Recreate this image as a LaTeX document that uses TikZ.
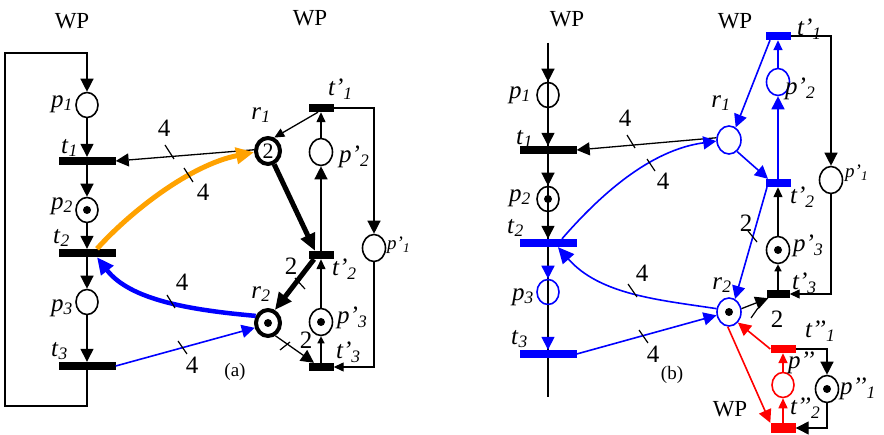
\documentclass[tikz,border=0pt]{standalone}
\usepackage{fontspec}
\setmainfont{Liberation Serif}
\usetikzlibrary{arrows.meta,shapes.geometric}
\newcommand\lb[2]{\textit{#1}\textsubscript{\textit{#2}}}
\definecolor{myorange}{RGB}{255,162,0}
\begin{document}
\begin{tikzpicture}[x=1pt,y=-1pt,
  every node/.style={font=\fontsize{25}{27}\selectfont, inner sep=0pt},
  wp/.style={font=\fontsize{23}{25}\selectfont},
  pl/.style={ellipse, draw, line width=1.6pt, minimum width=22pt, minimum height=25pt},
  res/.style={ellipse, draw, line width=4pt, minimum width=24pt, minimum height=26pt, font=\fontsize{22}{24}\selectfont},
  token/.style={path picture={\fill[black] (path picture bounding box.center) circle (4pt);}},
  bigtr/.style={rectangle, fill=black, minimum width=57pt, minimum height=8pt},
  smtr/.style={rectangle, fill=black, minimum width=25pt, minimum height=8pt},
  conn/.style={line width=1.3pt, -{Triangle[length=13pt,width=13pt]}},
  connm/.style={line width=1.3pt, -{Triangle[length=10pt,width=9pt]}},
  conns/.style={line width=1.3pt, -{Triangle[length=7pt,width=7pt]}},
  heavy/.style={line width=5pt, -{Triangle[length=17pt,width=15pt]}},
  wline/.style={line width=1.2pt},
  ll/.style={anchor=east},
  rl/.style={anchor=west},
  smalllab/.style={font=\fontsize{19}{21}\selectfont},
  caplab/.style={font=\fontsize{19}{21}\selectfont},
]
\useasboundingbox (0,0) rectangle (884,435);

% ================= panel (a) =================
\node[wp] (a-wp1) at (72,21) {WP};
\node[wp] (a-wp2) at (310,18) {WP};

\node[pl] (a-p1) at (87,105) {};
\node[bigtr] (a-t1) at (87,161) {};
\node[pl,token] (a-p2) at (87,210) {};
\node[bigtr] (a-t2) at (87,253) {};
\node[pl] (a-p3) at (87,302) {};
\node[bigtr] (a-t3) at (87,366) {};

\node[res] (a-r1) at (268,151) {2};
\node[res,token] (a-r2) at (268,323) {};

\node[smtr] (a-tp1) at (321,108) {};
\node[pl,minimum width=23pt,minimum height=27pt] (a-pp2) at (321,152) {};
\node[smtr] (a-tp2) at (321,255) {};
\node[pl,token,minimum width=23pt,minimum height=27pt] (a-pp3) at (321,322) {};
\node[smtr] (a-tp3) at (321,367) {};
\node[pl,minimum width=23pt,minimum height=27pt] (a-pp1) at (374,248) {};

% labels (a)
\node[ll] (a-lp1) at (73,104) {\lb{p}{1}};
\node[ll] (a-lt1) at (78,148) {\lb{t}{1}};
\node[ll] (a-lp2) at (73,206) {\lb{p}{2}};
\node[ll] (a-lt2) at (70,238) {\lb{t}{2}};
\node[ll] (a-lp3) at (73,308) {\lb{p}{3}};
\node[ll] (a-lt3) at (68,351) {\lb{t}{3}};
\node (a-lr1) at (261,115) {\lb{r}{1}};
\node (a-lr2) at (261,294) {\lb{r}{2}};
\node[rl] (a-ltp1) at (328,89) {\lb{t’}{1}};
\node[rl] (a-lpp2) at (339,157) {\lb{p’}{2}};
\node[rl] (a-ltp2) at (332,269) {\lb{t’}{2}};
\node[rl] (a-lpp3) at (337,318) {\lb{p’}{3}};
\node[rl] (a-ltp3) at (336,352) {\lb{t’}{3}};
\node[smalllab,rl] (a-lpp1) at (387,245) {\lb{p’}{1}};
\node[caplab] (a-cap) at (235,372) {(a)};

% left loop (a)
\coordinate (a-c1) at (87,406);
\coordinate (a-c2) at (5,406);
\coordinate (a-c3) at (5,53);
\coordinate (a-c4) at (87,53);
\draw[conn] (a-t3.center) -- (a-c1) -- (a-c2) -- (a-c3) -- (a-c4) -- (a-p1);
\draw[conn] (a-p1) -- (a-t1);
\draw[conn] (a-t1) -- (a-p2);
\draw[conn] (a-p2) -- (a-t2);
\draw[conn] (a-t2) -- (a-p3);
\draw[conn] (a-p3) -- (a-t3);

% resource arcs (a)
\draw[conn] (a-r1.175) -- (a-t1.east);
\coordinate (a-o1) at ([xshift=10pt]a-t2.north);
\draw[heavy, myorange, -{Triangle[length=18pt,width=16pt]}] (a-o1) .. controls (130,212) and (190,165) .. (a-r1.185);
\coordinate (a-b1) at ([xshift=10pt]a-t2.south);
\draw[heavy, blue, line width=4.5pt] (a-r2.150) .. controls (190,310) and (130,300) .. (a-b1);
\draw[conn, blue, line width=1.6pt] (a-t3.east) -- (a-r2.200);
\draw[connm] ([xshift=-3pt]a-tp1.south) -- (a-r1.65);
\draw[heavy] (a-r1.-65) -- ([xshift=-6pt]a-tp2.north);
\draw[heavy] ([xshift=-7pt]a-tp2.south) -- (a-r2.62);
\draw[conn] (a-r2.-60) -- ([xshift=-7pt]a-tp3.north);

% right column (a)
\draw[connm] (a-pp2) -- (a-tp1);
\draw[conn] (a-tp2) -- (a-pp2);
\draw[connm] (a-pp3) -- (a-tp2);
\draw[conns] (a-tp3) -- (a-pp3);
\draw[conn] (a-tp1.east) -| (a-pp1);
\draw[connm] (a-pp1) |- (a-tp3);

% weight ticks and labels (a)
\draw[wline] (165,145) -- (174,159);
\draw[wline] (184,168) -- (193,182);
\draw[wline] (167,295) -- (175,308);
\draw[wline] (178,341) -- (187,354);
\draw[wline] (295,278) -- (305,289);
\draw[wline] (280,350) -- (290,342);
\node (a-w1) at (164,128) {4};
\node (a-w2) at (203,192) {4};
\node (a-w3) at (182,282) {4};
\node (a-w4) at (192,365) {4};
\node (a-w5) at (291,266) {2};
\node (a-w6) at (306,340) {2};

% ================= panel (b) =================
\node[wp] (b-wp1) at (567,19) {WP};
\node[wp] (b-wp2) at (735,21) {WP};
\node[wp] (b-wp3) at (730,409) {WP};

\coordinate (b-top) at (548,43);
\coordinate (b-bot) at (548,397);
\draw[line width=1.6pt] (b-top) -- (b-bot);

\node[pl] (b-p1) at (548,95) {};
\node[bigtr] (b-t1) at (548,150) {};
\node[pl,token] (b-p2) at (548,199) {};
\node[bigtr,fill=blue] (b-t2) at (548,243) {};
\node[pl,draw=blue] (b-p3) at (548,292) {};
\node[bigtr,fill=blue] (b-t3) at (548,354) {};

\node[pl,draw=blue,minimum width=24pt,minimum height=28pt] (b-r1) at (729,140) {};
\node[pl,draw=blue,token,minimum width=24pt,minimum height=28pt] (b-r2) at (729,312) {};

\node[smtr,fill=blue] (b-tp1) at (778,36) {};
\node[pl,draw=blue,minimum width=23pt,minimum height=27pt] (b-pp2) at (778,82) {};
\node[smtr,fill=blue] (b-tp2) at (778,183) {};
\node[pl,token,minimum width=23pt,minimum height=27pt] (b-pp3) at (778,250) {};
\node[smtr,minimum width=23pt] (b-tp3) at (778,294) {};
\node[pl,minimum width=23pt,minimum height=27pt] (b-pp1) at (831,180) {};

\node[smtr,fill=red] (b-tpp1) at (783,349) {};
\node[pl,draw=red] (b-pp) at (783,385) {};
\node[smtr,fill=red,minimum height=10pt] (b-tpp2) at (783,428) {};
\node[pl,token,minimum width=23pt,minimum height=27pt] (b-ppp1) at (827,389) {};

% labels (b)
\node[ll] (b-lp1) at (531,95) {\lb{p}{1}};
\node[ll] (b-lt1) at (533,139) {\lb{t}{1}};
\node[ll] (b-lp2) at (531,198) {\lb{p}{2}};
\node[ll] (b-lt2) at (524,228) {\lb{t}{2}};
\node[ll] (b-lp3) at (534,297) {\lb{p}{3}};
\node[ll] (b-lt3) at (528,339) {\lb{t}{3}};
\node (b-lr1) at (721,103) {\lb{r}{1}};
\node (b-lr2) at (722,285) {\lb{r}{2}};
\node[rl] (b-ltp1) at (797,29) {\lb{t’}{1}};
\node[rl] (b-lpp2) at (785,89) {\lb{p’}{2}};
\node[rl] (b-ltp2) at (790,197) {\lb{t’}{2}};
\node[rl] (b-lpp3) at (793,246) {\lb{p’}{3}};
\node[rl] (b-ltp3) at (792,283) {\lb{t’}{3}};
\node[smalllab,rl] (b-lpp1) at (845,173) {\lb{p’}{1}};
\node[rl] (b-ltpp1) at (805,331) {\lb{t’’}{1}};
\node[rl] (b-lpp) at (788,363) {\textit{p’’}};
\node[rl] (b-lppp1) at (840,389) {\lb{p’’}{1}};
\node[rl] (b-ltpp2) at (790,408) {\lb{t’’}{2}};
\node[caplab] (b-cap) at (672,375) {(b)};

% column arrows (b)
\draw[conn] (b-top) -- (b-p1);
\draw[conn] (b-p1) -- (b-t1);
\draw[conn] (b-t1) -- (b-p2);
\draw[conn] (b-p2) -- (b-t2);
\draw[line width=1.6pt, -{Triangle[length=13pt,width=13pt,color=blue]}] (b-t2) -- (b-p3);
\draw[line width=1.6pt, -{Triangle[length=13pt,width=13pt,color=blue]}] (b-p3) -- (b-t3);

% resource arcs (b)
\draw[conn] (b-r1.170) -- (b-t1.east);
\coordinate (b-o1) at ([xshift=14pt]b-t2.north);
\draw[conn, blue, line width=1.6pt] (b-o1) .. controls (600,195) and (650,150) .. (b-r1.185);
\coordinate (b-b1) at ([xshift=10pt]b-t2.south);
\draw[blue, line width=1.6pt, -{Triangle[length=16pt,width=15pt]}] (b-r2.165) .. controls (660,300) and (600,295) .. (b-b1);
\draw[conn, blue, line width=1.6pt] (b-t3.east) -- (b-r2.195);
\draw[conn, blue, line width=1.6pt] ([xshift=-8pt]b-tp1.south) -- (b-r1.62);
\draw[conn, blue, line width=1.6pt] (b-r1.-55) -- ([xshift=-10pt]b-tp2.north);
\draw[conn, blue, line width=1.6pt] ([xshift=-11pt]b-tp2.south) -- (b-r2.65);
\draw[conn] (b-r2.15) -- ([xshift=2pt]b-tp3.south west);
\draw[conn, red, line width=1.6pt] (b-tpp1.west) -- (b-r2.-50);
\draw[conn, red, line width=1.6pt] (b-r2.-95) -- (b-tpp2.north west);

% right columns (b)
\draw[connm, blue, line width=1.6pt] (b-pp2) -- (b-tp1);
\draw[conn, blue, line width=1.6pt] (b-tp2) -- (b-pp2);
\draw[connm] (b-pp3) -- (b-tp2);
\draw[conns] (b-tp3) -- (b-pp3);
\draw[conn] (b-tp1.east) -| (b-pp1);
\draw[connm] (b-pp1) |- (b-tp3);
\draw[connm, red, line width=1.6pt] (b-pp) -- (b-tpp1);
\draw[connm, red, line width=1.6pt] (b-tpp2) -- (b-pp);
\draw[conn] (b-tpp1.east) -| (b-ppp1);
\draw[conn] (b-ppp1) |- (b-tpp2);

% weight ticks and labels (b)
\draw[wline] (627,135) -- (635,148);
\draw[wline] (647,159) -- (655,171);
\draw[wline] (628,284) -- (637,297);
\draw[wline] (639,330) -- (648,343);
\draw[wline] (748,231) -- (757,242);
\draw[wline] (751,318) -- (758,308);
\node (b-w1) at (625,118) {4};
\node (b-w2) at (663,181) {4};
\node (b-w3) at (642,273) {4};
\node (b-w4) at (653,354) {4};
\node (b-w5) at (746,223) {2};
\node (b-w6) at (777,319) {2};
\end{tikzpicture}
\end{document}
